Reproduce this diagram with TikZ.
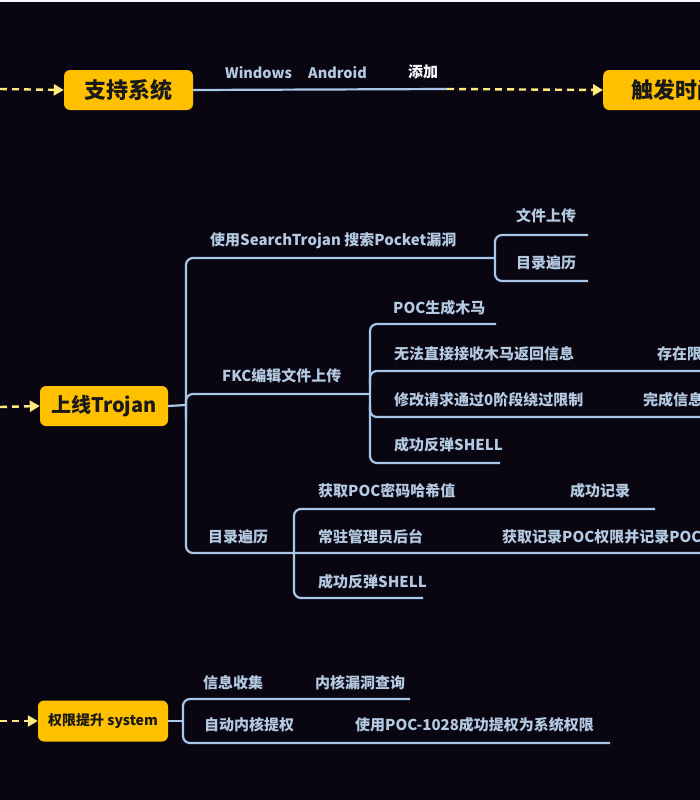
\documentclass[tikz,border=0pt]{standalone}
\usepackage{fontspec}
\setmainfont{Noto Sans CJK SC}
\usetikzlibrary{arrows.meta}
\definecolor{bgc}{HTML}{0A0611}
\definecolor{linec}{HTML}{A9C7E8}
\definecolor{txtc}{HTML}{B4CAE2}
\definecolor{boxc}{HTML}{FFC000}
\definecolor{dashc}{HTML}{FFEA80}
\tikzset{
  lbl/.style={anchor=west, inner sep=0pt, text=txtc, font=\bfseries\fontsize{15}{15}\selectfont},
  wlbl/.style={lbl, text=white!92!txtc},
  mainbox/.style={fill=boxc, rounded corners=6pt, text=black!90, inner sep=0pt, font=\bfseries\fontsize{22}{22}\selectfont},
  branch/.style={draw=linec, line width=2.2pt, rounded corners=7pt},
  dasharrow/.style={draw=dashc, line width=2.4pt, dash pattern=on 7pt off 5pt, -{Triangle[length=10pt,width=11pt]}},
}
\begin{document}
\begin{tikzpicture}[x=1pt,y=-1pt]
\useasboundingbox (0,0) rectangle (700,800);
\fill[bgc] (0,0) rectangle (700,800);
\fill[white!90!linec] (0,0) rectangle (700,2);
\clip (0,0) rectangle (700,800);

% ---------- top row ----------
\coordinate (s0) at (0,89);
\node[mainbox, minimum width=129pt, minimum height=40pt] (sys) at (128.5,90) {支持系统};
\coordinate (sysend) at (447,89);
\node[mainbox, anchor=west, minimum width=140pt, minimum height=40pt, text width=120pt, align=left] (trig) at (603,90) {\hspace*{18pt}触发时间};
\draw[dasharrow] (s0) -- (sys.west);
\draw[branch] (sys.east) -- (sysend);
\draw[dasharrow] (sysend) -- (trig.west);
\node[lbl, font=\bfseries\fontsize{14.5}{14.5}\selectfont] (win) at (225,73) {Windows};
\node[lbl, font=\bfseries\fontsize{14.5}{14.5}\selectfont] (andr) at (308,73) {Android};
\node[wlbl] (add) at (408,72) {添加};

% ---------- Trojan ----------
\coordinate (t0) at (0,407);
\node[mainbox, minimum width=128pt, minimum height=40pt, font=\bfseries\fontsize{20}{20}\selectfont] (troj) at (104,406) {上线Trojan};
\draw[dasharrow] (t0) -- (troj.west);
\coordinate (tsp) at (186,405);
\draw[branch] (troj.east) -- (tsp);
% spine
\coordinate (b1) at (495,258);
\coordinate (b3) at (705,553);
\draw[branch] (b1) -| (186,553) -- (b3);
\coordinate (b2) at (370,394);
\draw[branch] (186,420) |- (b2);
\node[lbl] (l1) at (210,241) {使用SearchTrojan 搜索Pocket漏洞};
\node[lbl] (l2) at (222,376) {FKC编辑文件上传};
\node[lbl] (l3) at (208,537) {目录遍历};

% sub-bracket 1
\coordinate (c11) at (588,235);
\coordinate (c12) at (588,281);
\draw[branch] (c11) -| (495,281) -- (c12);
\node[lbl] (m11) at (516,216) {文件上传};
\node[lbl] (m12) at (516,263) {目录遍历};

% sub-bracket 2
\coordinate (c21) at (496,324);
\coordinate (c22) at (705,371);
\coordinate (c23) at (705,417);
\coordinate (c24) at (500,463);
\draw[branch] (c21) -| (370,463) -- (c24);
\draw[branch] (370,385) |- (c22);
\draw[branch] (370,405) |- (c23);
\node[lbl] (m21) at (393,308) {POC生成木马};
\node[lbl] (m22) at (394,354) {无法直接接收木马返回信息};
\node[lbl] (m22b) at (657,354) {存在限制};
\node[lbl] (m23) at (394,400) {修改请求通过0阶段绕过限制};
\node[lbl] (m23b) at (643,400) {完成信息};
\node[lbl] (m24) at (394,445) {成功反弹SHELL};

% sub-bracket 3
\coordinate (c31) at (655,509);
\coordinate (c33) at (423,598);
\draw[branch] (c31) -| (294,598) -- (c33);
\node[lbl] (m31) at (318,491) {获取POC密码哈希值};
\node[lbl] (m31b) at (570,491) {成功记录};
\node[lbl] (m32) at (318,537) {常驻管理员后台};
\node[lbl] (m32b) at (502,537) {获取记录POC权限并记录POC};
\node[lbl] (m33) at (318,582) {成功反弹SHELL};

% ---------- privilege ----------
\coordinate (p0) at (0,721);
\node[mainbox, minimum width=130pt, minimum height=41pt, font=\bfseries\fontsize{14}{14}\selectfont] (priv) at (103,721) {权限提升\ system};
\draw[dasharrow] (p0) -- (priv.west);
\coordinate (psp) at (183,721);
\draw[branch] (priv.east) -- (psp);
\coordinate (d1) at (410,699);
\coordinate (d2) at (610,743);
\draw[branch] (d1) -| (183,743) -- (d2);
\node[lbl] (n11) at (203,683) {信息收集};
\node[lbl] (n12) at (315,683) {内核漏洞查询};
\node[lbl] (n21) at (204,725) {自动内核提权};
\node[lbl] (n22) at (355,725) {使用POC-1028成功提权为系统权限};
\end{tikzpicture}
\end{document}
